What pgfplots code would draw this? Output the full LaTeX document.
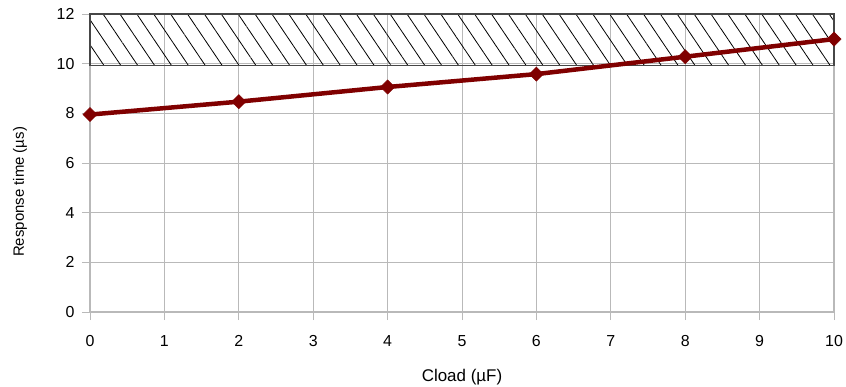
\documentclass[border=0pt]{standalone}
\usepackage{fontspec}
\setmainfont{Liberation Sans}
\usepackage{pgfplots}
\pgfplotsset{compat=1.18}
\usetikzlibrary{patterns.meta}
\definecolor{gridgray}{RGB}{185,185,185}
\definecolor{darkred}{RGB}{128,0,0}
\definecolor{boxgray}{RGB}{70,70,70}
\begin{document}
\begin{tikzpicture}
\begin{axis}[
  scale only axis, width=744bp, height=298bp,
  xmin=0, xmax=10, ymin=0, ymax=12,
  xtick={0,1,...,10}, ytick={0,2,...,12},
  grid=major, major grid style={gridgray, line width=0.9bp},
  axis line style={gridgray, line width=1.2bp},
  tick pos=left, tick align=outside, major tick length=8bp,
  tick style={gridgray, line width=0.9bp},
  tick label style={font=\fontsize{16}{19}\selectfont},
  xticklabel style={yshift=-12bp},
  yticklabel style={xshift=-4bp},
  /pgf/number format/assume math mode=true,
  xlabel={Cload (µF)}, ylabel={Response time (µs)},
  xlabel style={font=\fontsize{17}{20}\selectfont, at={(axis description cs:0.5,0)}, anchor=center, yshift=-65bp},
  ylabel style={font=\fontsize{15}{18}\selectfont, at={(axis description cs:0,0.403)}, anchor=center, yshift=70bp},
  clip=false,
]
\addplot[draw=boxgray, line width=1.4bp, pattern={Lines[angle=-56, distance=14bp, line width=0.8bp]}, pattern color=black]
  coordinates {(0,9.93) (10,9.93) (10,12) (0,12)} -- cycle;
\addplot[darkred, line width=4.5bp, mark=square*, mark size=5bp, mark options={rotate=45, fill=darkred, draw=darkred, line width=0.5bp}]
  coordinates {(0,7.95) (2,8.47) (4,9.06) (6,9.58) (8,10.28) (10,10.99)};
\end{axis}
\pgfresetboundingbox
\path (-90bp,-75bp) rectangle (756bp,312bp);
\end{tikzpicture}
\end{document}
